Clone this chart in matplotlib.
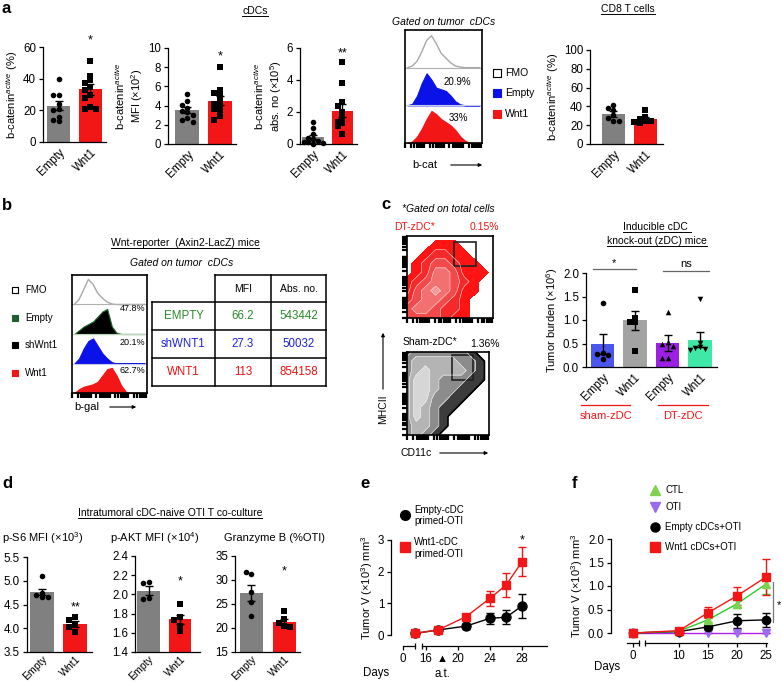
import numpy as np
import matplotlib
matplotlib.use('Agg')
import matplotlib.pyplot as plt
import matplotlib.transforms as mtransforms

plt.rcParams['font.family'] = ['Liberation Sans', 'DejaVu Sans']
plt.rcParams['mathtext.fontset'] = 'custom'
plt.rcParams['mathtext.rm'] = 'Liberation Sans'
plt.rcParams['mathtext.it'] = 'Liberation Sans:italic'
plt.rcParams['mathtext.bf'] = 'Liberation Sans:bold'
plt.rcParams['axes.linewidth'] = 0.9

RED = '#f21616'
GRAY = '#808080'
groups = ['Empty', 'Wnt1']
TICK = 8.3
LAB = 8

# ---------------- a : active b-catenin ----------------
a_pct_empty = [40, 30, 30, 24, 21, 20, 16, 14, 13]
a_pct_wnt1 = [51, 42, 39, 37, 35, 33, 30, 28, 22, 21, 21]
a_pct_mean = [23.0, 33.2]
a_pct_sem = [2.6, 3.2]

a_mfi_empty = [5.2, 4.5, 4.1, 3.8, 3.4, 3.3, 3.0, 2.7, 2.5, 2.3]
a_mfi_wnt1 = [8.0, 5.6, 5.3, 5.1, 4.5, 4.2, 4.0, 3.6, 3.4, 2.9, 2.5]
a_mfi_mean = [3.53, 4.52]
a_mfi_sem = [0.35, 0.5]

a_abs_empty = [1.4, 1.0, 0.6, 0.4, 0.3, 0.2, 0.15, 0.1, 0.05, 0.0]
a_abs_wnt1 = [5.1, 3.8, 2.6, 2.4, 2.0, 1.6, 1.4, 1.3, 1.1, 0.6]
a_abs_mean = [0.46, 2.07]
a_abs_sem = [0.12, 0.4]

cd8_empty = [42, 38, 36, 31, 28, 25, 25]
cd8_wnt1 = [36, 29, 27, 25, 24, 23, 22]
cd8_mean = [32.0, 26.2]
cd8_sem = [3.0, 2.5]

# flow histograms (relative counts over 16 channels)
hist_a_fmo = [0, .05, .2, .5, .85, 1.0, .75, .45, .3, .15, .05, .02, 0, 0, 0, 0]
hist_a_empty = [0, .05, .3, .7, 1.0, .8, .55, .5, .45, .3, .12, .03, 0, 0, 0, 0]
hist_a_wnt1 = [0, .05, .2, .45, .75, 1.0, .9, .75, .65, .55, .4, .2, .07, 0, 0, 0]
a_hist_pct = ['20.9%', '33%']

# ---------------- b : Axin2-LacZ reporter ----------------
hist_b_fmo = [0, .2, .6, 1.0, .8, .45, .25, .1, .02, 0, 0, 0, 0, 0, 0, 0]
hist_b_empty = [0, .15, .3, .4, .5, .7, .9, 1.0, .3, .05, 0, 0, 0, 0, 0, 0]
hist_b_sh = [0, .2, .6, .9, 1.0, .7, .4, .2, .05, 0, 0, 0, 0, 0, 0, 0]
hist_b_wnt1 = [0, .15, .25, .3, .35, .45, .7, .95, 1.0, .7, .3, .05, 0, 0, 0, 0]
b_hist_pct = ['47.8%', '20.1%', '62.7%']
b_legend = ['FMO', 'Empty', 'shWnt1', 'Wnt1']
b_rows = ['EMPTY', 'shWNT1', 'WNT1']
b_mfi = [66.2, 27.3, 113]
b_abs = [543442, 50032, 854158]

# ---------------- c : zDC ----------------
dt_density = [  # top row first
    [0, 0, 0, 0, 0, 0, 0, 0, 0, 0],
    [0, 0, 0, 1, 1, 1, 0, 0, 0, 0],
    [0, 0, 1, 2, 2, 1, 1, 0, 0, 0],
    [0, 1, 2, 3, 3, 2, 1, 1, 0, 0],
    [0, 1, 2, 4, 4, 3, 1, 1, 1, 0],
    [1, 2, 3, 4, 4, 3, 2, 1, 0, 0],
    [1, 3, 4, 5, 4, 3, 1, 1, 0, 0],
    [2, 3, 4, 4, 3, 2, 1, 0, 0, 0],
    [3, 4, 4, 3, 2, 2, 1, 0, 0, 0],
    [3, 3, 3, 3, 2, 1, 1, 0, 0, 0]]
dt_out_x = [0.60, 0.66, 0.72, 0.78, 0.84, 0.62, 0.57, 0.70, 0.90, 0.75, 0.68]
dt_out_y = [0.62, 0.58, 0.55, 0.57, 0.60, 0.76, 0.86, 0.66, 0.58, 0.48, 0.45]
sham_density = [
    [1, 2, 2, 2, 2, 2, 2, 1, 0, 0],
    [2, 3, 3, 3, 3, 3, 2, 2, 1, 0],
    [2, 3, 4, 3, 3, 3, 3, 2, 1, 0],
    [2, 4, 4, 3, 2, 2, 2, 1, 1, 0],
    [2, 4, 4, 3, 2, 2, 1, 1, 0, 0],
    [2, 4, 4, 2, 2, 1, 1, 0, 0, 0],
    [2, 4, 3, 2, 1, 1, 0, 0, 0, 0],
    [2, 4, 3, 2, 1, 0, 0, 0, 0, 0],
    [2, 3, 3, 2, 1, 0, 0, 0, 0, 0],
    [2, 3, 2, 1, 0, 0, 0, 0, 0, 0]]

c_labels = ['Empty', 'Wnt1', 'Empty', 'Wnt1']
c_sham_empty = [1.37, 0.30, 0.27, 0.26, 0.16]
c_sham_wnt1 = [1.64, 1.05, 0.96, 0.95, 0.34]
c_dt_empty = [1.16, 0.53, 0.48, 0.45, 0.20, 0.20]
c_dt_wnt1 = [1.45, 0.52, 0.42, 0.40, 0.38, 0.37]
c_mean = [0.49, 0.99, 0.52, 0.58]
c_sem = [0.22, 0.20, 0.17, 0.16]

# ---------------- d : co-culture ----------------
d_s6_empty = [5.1, 4.75, 4.7, 4.65, 4.65]
d_s6_wnt1 = [4.24, 4.17, 4.10, 4.03, 3.92]
d_s6_mean = [4.76, 4.09]
d_s6_sem = [0.07, 0.07]
d_akt_empty = [2.13, 2.12, 1.96, 1.95]
d_akt_wnt1 = [1.90, 1.76, 1.73, 1.67, 1.62]
d_akt_mean = [2.04, 1.74]
d_akt_sem = [0.05, 0.05]
d_gzb_empty = [31.3, 31.6, 27.6, 25.5, 22.4]
d_gzb_wnt1 = [23.6, 21.8, 21.0, 20.4, 20.3]
d_gzb_mean = [27.3, 21.3]
d_gzb_sem = [1.7, 0.6]

# ---------------- e : tumor growth ----------------
e_days = [7, 17.5, 21, 24, 26, 28]
e_empty = [0.05, 0.16, 0.28, 0.53, 0.56, 0.92]
e_empty_err = [0.03, 0.03, 0.08, 0.18, 0.22, 0.37]
e_wnt1 = [0.05, 0.16, 0.58, 1.16, 1.58, 2.32]
e_wnt1_err = [0.03, 0.03, 0.05, 0.24, 0.37, 0.45]
e_ticks = [0, 16, 20, 24, 28]
e_at_day = 18

# ---------------- f : tumor growth ----------------
f_days = [0, 10, 15, 20, 25]
f_ctl = [0, 0.04, 0.28, 0.62, 1.04]
f_ctl_err = [0.01, 0.02, 0.05, 0.08, 0.20]
f_oti = [0, 0, 0, 0, 0]
f_oti_err = [0, 0, 0, 0, 0]
f_empty = [0, 0.03, 0.13, 0.26, 0.28]
f_empty_err = [0.01, 0.02, 0.04, 0.15, 0.15]
f_wnt1 = [0, 0.05, 0.43, 0.79, 1.19]
f_wnt1_err = [0.01, 0.03, 0.12, 0.19, 0.38]
f_ticks = [0, 10, 15, 20, 25]

W, H = 782, 685
fig = plt.figure(figsize=(W / 100, H / 100), dpi=100)


def box(x0, y0, x1, y1):
    return fig.add_axes([x0 / W, 1 - y1 / H, (x1 - x0) / W, (y1 - y0) / H])


def swarm(vals, dx, tol):
    offs, placed = [], []
    for v in vals:
        for c in [0, -1, 1, -2, 2, -3, 3]:
            if all(abs(v - pv) > tol or c != pc for pv, pc in placed):
                break
        placed.append((v, c))
        offs.append(c * dx)
    return np.array(offs)


def bar_panel(ax, pts, means, sems, colors, markers, xlim, ylim, yticks,
              labels=groups, width=0.74, s=16, dx=0.18, xsize=TICK):
    x = np.arange(1, len(means) + 1)
    ax.bar(x, means, width=width, color=colors, zorder=1)
    tol = 0.045 * (ylim[1] - ylim[0])
    for xi, vals, m in zip(x, pts, markers):
        ax.scatter(xi + swarm(vals, dx, tol), vals, s=s, marker=m,
                   color='black', linewidths=0, zorder=3, clip_on=False)
    ax.errorbar(x, means, yerr=sems, fmt='none', ecolor='black',
                elinewidth=1, capsize=3.2, capthick=1, zorder=4)
    ax.set_xlim(xlim)
    ax.set_ylim(ylim)
    ax.set_yticks(yticks)
    ax.set_xticks(x)
    ax.set_xticklabels(labels, rotation=45, ha='right', rotation_mode='anchor')
    for sp in ['top', 'right']:
        ax.spines[sp].set_visible(False)
    ax.tick_params(axis='y', length=3, width=0.9, labelsize=TICK, pad=2)
    ax.tick_params(axis='x', length=0, labelsize=xsize, pad=3)


def flow_ticks(ax, sides=('bottom',)):
    t = [(d + np.log10(k)) / 4 for d in range(4) for k in range(1, 10)]
    ax.set_xticks(t if 'bottom' in sides else [])
    ax.set_yticks(t if 'left' in sides else [])
    ax.set_xticklabels([])
    ax.set_yticklabels([])
    ax.tick_params(length=3.5, width=1.6, direction='out')
    for sp in ax.spines.values():
        sp.set_linewidth(1.2)


def stacked_hist(ax, rows):
    chans = (np.arange(16) + 0.5) / 16
    n = len(rows)
    for i, (h, fc, ec, base_c) in enumerate(rows):
        base = n - 1 - i
        top = base + np.array(h) * 0.85
        if fc == 'none':
            ax.plot(chans, top, color=ec, lw=1)
        else:
            ax.fill_between(chans, base, top, color=fc, lw=0.8, edgecolor=ec)
        ax.axhline(base, color=base_c, lw=0.8)
    ax.set_xlim(0, 1)
    ax.set_ylim(0, n)
    flow_ticks(ax)


# ======================= panel a =======================
ax = box(43, 47, 106, 142)
bar_panel(ax, [a_pct_empty, a_pct_wnt1], a_pct_mean, a_pct_sem, [GRAY, RED],
          ['o', 's'], (0.5, 2.5), (0, 60), [0, 20, 40, 60])
ax.set_ylabel('b-catenin$^{active}$ (%)', fontsize=LAB, labelpad=2)
ax.text(2, 62, '*', ha='center', fontsize=9)

ax = box(168, 48, 236, 144)
bar_panel(ax, [a_mfi_empty, a_mfi_wnt1], a_mfi_mean, a_mfi_sem, [GRAY, RED],
          ['o', 's'], (0.4, 2.5), (0, 10), [0, 2, 4, 6, 8, 10])
ax.set_ylabel('b-catenin$^{active}$\nMFI (×10$^2$)', fontsize=LAB, labelpad=2)
ax.text(2, 8.8, '*', ha='center', fontsize=9)

ax = box(300, 48, 357, 144)
bar_panel(ax, [a_abs_empty, a_abs_wnt1], a_abs_mean, a_abs_sem, [GRAY, RED],
          ['o', 's'], (0.55, 2.5), (0, 6), [0, 2, 4, 6], dx=0.16)
ax.set_ylabel('b-catenin$^{active}$\nabs. no (×10$^5$)', fontsize=LAB, labelpad=2)
ax.text(2, 5.5, '**', ha='center', fontsize=9)

ax = box(405, 30, 482, 143)
stacked_hist(ax, [(hist_a_fmo, 'none', '#a8a8a8', '#b0b0b0'),
                  (hist_a_empty, '#0b12e8', '#0b12e8', '#c8c8e8'),
                  (hist_a_wnt1, RED, RED, '#e8c8c8')])

ax = box(590, 50, 663, 144)
bar_panel(ax, [cd8_empty, cd8_wnt1], cd8_mean, cd8_sem, [GRAY, RED],
          ['o', 's'], (0.27, 2.55), (0, 100), [0, 20, 40, 60, 80, 100])
ax.set_ylabel('b-catenin$^{active}$ (%)', fontsize=LAB, labelpad=2)

# ======================= panel b =======================
ax = box(72, 275, 147, 393)
stacked_hist(ax, [(hist_b_fmo, 'none', '#a8a8a8', '#b0b0b0'),
                  (hist_b_empty, 'black', '#1d6b2d', '#b8d8b8'),
                  (hist_b_sh, '#0b12e8', '#0b12e8', '#c8c8e8'),
                  (hist_b_wnt1, RED, RED, '#e8c8c8')])

# ======================= panel c =======================
ax = box(407, 236, 493, 318)
gx = np.linspace(0, 1, 10)
Z = np.array(dt_density)[::-1]
ax.contourf(gx, gx, Z, levels=[0.5, 1.5, 2.5, 3.5, 4.5, 6],
            colors=['#ff1414', '#f42a2a', '#f24a4a', '#f27070', '#f59a9a'])
ax.contour(gx, gx, Z, levels=[1.5, 2.5, 3.5, 4.5], colors='#ffd6d6', linewidths=0.4)
ax.scatter(dt_out_x, dt_out_y, s=2, color='#ff2020', linewidths=0)
ax.add_patch(plt.Rectangle((0.55, 0.63), 0.25, 0.30, fill=False, lw=1.2, color='#222222'))
ax.set_xlim(0, 1)
ax.set_ylim(0, 1)
flow_ticks(ax, ('bottom', 'left'))

ax = box(407, 352, 489, 435)
Z = np.array(sham_density)[::-1]
ax.contourf(gx, gx, Z, levels=[0.5, 1.5, 2.5, 3.5, 5],
            colors=['#3c3c3c', '#8c8c8c', '#b4b4b4', '#d6d6d6'])
ax.contour(gx, gx, Z, levels=[0.5], colors='black', linewidths=1.2)
ax.contour(gx, gx, Z, levels=[1.5, 2.5, 3.5], colors='#eeeeee', linewidths=0.4)
ax.add_patch(plt.Rectangle((0.55, 0.66), 0.25, 0.30, fill=False, lw=1.2, color='#222222'))
ax.set_xlim(0, 1)
ax.set_ylim(0, 1)
flow_ticks(ax, ('bottom', 'left'))

ax = box(586, 273, 717, 367)
bar_panel(ax, [c_sham_empty, c_sham_wnt1, c_dt_empty, c_dt_wnt1], c_mean, c_sem,
          ['#4a56ee', '#a3a3a3', '#9c1fe4', '#3fe8a6'], ['o', 's', '^', 'v'],
          (0.49, 4.52), (0, 2.0), [0, 0.5, 1.0, 1.5, 2.0], labels=c_labels,
          width=0.72, s=16, dx=0.16)
ax.set_yticklabels(['0.0', '0.5', '1.0', '1.5', '2.0'])
ax.set_ylabel('Tumor burden (×10$^6$)', fontsize=LAB, labelpad=2)

# ======================= panel d =======================
ax = box(27, 557, 92, 652)
bar_panel(ax, [d_s6_empty, d_s6_wnt1], d_s6_mean, d_s6_sem, [GRAY, RED],
          ['o', 's'], (0.55, 2.5), (3.5, 5.5), [3.5, 4.0, 4.5, 5.0, 5.5], width=0.72,
          xsize=7.6)
ax.text(2, 4.38, '**', ha='center', fontsize=9)

ax = box(135, 556, 200, 652)
bar_panel(ax, [d_akt_empty, d_akt_wnt1], d_akt_mean, d_akt_sem, [GRAY, RED],
          ['o', 's'], (0.57, 2.63), (1.4, 2.4), [1.4, 1.6, 1.8, 2.0, 2.2, 2.4], width=0.72,
          xsize=7.6)
ax.text(2, 2.1, '*', ha='center', fontsize=9)

ax = box(235, 556, 300, 652)
bar_panel(ax, [d_gzb_empty, d_gzb_wnt1], d_gzb_mean, d_gzb_sem, [GRAY, RED],
          ['o', 's'], (0.5, 2.47), (15, 35), [15, 20, 25, 30, 35], width=0.72,
          xsize=7.6)
ax.text(2, 31.2, '*', ha='center', fontsize=9)
for a in fig.axes[-3:]:
    a.tick_params(axis='x', pad=1.5)


# ======================= panels e, f =======================
def growth_axes(ax, xp, fp, xlim, seg1, seg2, ticks, ylim, yticks, ylabels, out_px):
    fwd = lambda d: np.interp(d, xp, fp)
    inv = lambda p: np.interp(p, fp, xp)
    ax.set_xscale('function', functions=(fwd, inv))
    ax.set_xlim(xlim)
    ax.set_ylim(ylim)
    ax.set_xticks(ticks)
    ax.set_xticklabels([str(t) for t in ticks])
    ax.minorticks_off()
    ax.set_yticks(yticks)
    ax.set_yticklabels(ylabels)
    for sp in ['top', 'right']:
        ax.spines[sp].set_visible(False)
    out_pt = out_px * 0.72
    ax.spines['bottom'].set_position(('outward', out_pt))
    ax.spines['bottom'].set_bounds(*seg2)
    tr = mtransforms.offset_copy(ax.get_xaxis_transform(), fig=fig, y=-out_pt, units='points')
    ax.plot(seg1, [0, 0], color='black', lw=0.9, transform=tr, clip_on=False)
    ax.plot([seg1[1], seg2[0]], [0, 0], ls='none', marker='|', ms=5, mew=0.9,
            color='black', transform=tr, clip_on=False)
    ax.tick_params(length=3, width=0.9, labelsize=TICK, pad=2)
    ax.set_ylabel('Tumor V (×10$^3$) mm$^3$', fontsize=LAB, labelpad=2)


def growth_line(ax, days, vals, err, color, mcolor, marker, ms):
    cont = ax.errorbar(days, vals, yerr=err, fmt='-', marker=marker, color=color,
                       mfc=mcolor, mec=mcolor, ms=ms, lw=1, elinewidth=1,
                       capsize=3, capthick=1, zorder=3)
    for art in cont.get_children():
        art.set_clip_on(False)


ax = box(391, 540, 547, 635)
growth_axes(ax, [-10, 0, 7.5, 15.5, 60], [-10, 0, 1.607, 2.375, 46.875],
            (-1.5, 31.1), [0, 7], [15.5, 31.1], e_ticks, (0, 3), [0, 1, 2, 3],
            ['0', '1', '2', '3'], 11)
growth_line(ax, e_days, e_empty, e_empty_err, 'black', 'black', 'o', 6.5)
growth_line(ax, e_days, e_wnt1, e_wnt1_err, RED, RED, 's', 6)
ax.text(28, 3.0, '*', ha='center', va='center', fontsize=9)
ax.text(e_at_day, -0.25, '▲', transform=ax.get_xaxis_transform(), ha='center',
        va='center', fontsize=8)
ax.text(e_at_day, -0.41, 'a.t.', transform=ax.get_xaxis_transform(), ha='center',
        va='center', fontsize=TICK)

ax = box(611, 539, 770, 633)
growth_axes(ax, [-20, 1, 4.14, 60], [-20, 1, 2.07, 57.93],
            (-3.8, 25.7), [-1, 1], [4.14, 25.2], f_ticks, (0, 2.0),
            [0, 0.5, 1.0, 1.5, 2.0], ['0.0', '0.5', '1.0', '1.5', '2.0'], 10)
growth_line(ax, f_days, f_oti, f_oti_err, '#b020e8', '#9a6cf2', 'v', 6)
growth_line(ax, f_days, f_empty, f_empty_err, 'black', 'black', 'o', 6)
growth_line(ax, f_days, f_ctl, f_ctl_err, '#2ecc2e', '#7fd24e', '^', 6)
growth_line(ax, f_days, f_wnt1, f_wnt1_err, RED, RED, 's', 5.5)

# ======================= overlay: labels, legends, table =======================
ov = fig.add_axes([0, 0, 1, 1])
ov.set_xlim(0, W)
ov.set_ylim(H, 0)
ov.axis('off')
underlined = []


def txt(x, y, s, size=7.5, u=False, **kw):
    kw.setdefault('ha', 'center')
    kw.setdefault('va', 'center')
    t = ov.text(x, y, s, fontsize=size, **kw)
    if u:
        underlined.append(t)
    return t


for lab, (x, y) in zip('abcdef', [(2, 8), (2, 205), (381, 204), (2, 483), (360, 483), (572, 483)]):
    txt(x, y, lab, size=12, weight='bold', ha='left')

# a
txt(255, 11, 'cDCs', u=True)
txt(628, 9, 'CD8 T cells', u=True)
txt(392, 22, 'Gated on tumor  cDCs', style='italic', ha='left')
txt(457, 82, a_hist_pct[0], size=7)
txt(458, 118, a_hist_pct[1], size=7)
txt(425, 165, 'b-cat', size=8)
ov.annotate('', xy=(485, 165), xytext=(448, 165),
            arrowprops=dict(arrowstyle='-|>', lw=0.8, color='black', mutation_scale=5))
for y, lab, fc in zip([73, 93, 114], ['FMO', 'Empty', 'Wnt1'], ['white', '#0b12e8', RED]):
    ov.scatter([497], [y], marker='s', s=28, c=fc, edgecolors='black' if fc == 'white' else fc,
               linewidths=0.8)
    txt(505, y, lab, size=7.5, ha='left')

# b
txt(185, 243, 'Wnt-reporter  (Axin2-LacZ) mice', u=True)
txt(182, 263, 'Gated on tumor  cDCs', style='italic')
for y, lab, fc in zip([290, 318, 345, 373], b_legend, ['white', '#1d5f2e', 'black', RED]):
    ov.scatter([15], [y], marker='s', s=24, c=fc, edgecolors='black' if fc == 'white' else fc,
               linewidths=0.8)
    txt(25, y, lab, size=7, ha='left')
for y, s in zip([308, 342, 370], b_hist_pct):
    txt(145, y, s, size=6.5, ha='right')
txt(87, 407, 'b-gal', size=8)
ov.annotate('', xy=(139, 407), xytext=(107, 407),
            arrowprops=dict(arrowstyle='-|>', lw=0.8, color='black', mutation_scale=5))
cols = [152, 215, 271, 326]
rows = [275, 302, 330, 358, 386]
tk = dict(color='black', lw=1.1)
ov.plot([215, 326], [275, 275], **tk)
for y in rows[1:]:
    ov.plot([152, 326], [y, y], **tk)
for x in cols[1:]:
    ov.plot([x, x], [275, 386], **tk)
ov.plot([152, 152], [302, 386], **tk)
txt(243, 288.5, 'MFI', size=7.5)
txt(298.5, 288.5, 'Abs. no.', size=7.5)
b_colors = ['#2a8a2a', '#2020dd', '#ee1111']
for i, (r, m, n, c) in enumerate(zip(b_rows, b_mfi, b_abs, b_colors)):
    yc = (rows[i + 1] + rows[i + 2]) / 2
    txt(183.5, yc, r, size=8.3, color=c)
    txt(243, yc, f'{m:g}', size=8.3, color=c)
    txt(298.5, yc, f'{n}', size=8.3, color=c)

# c
txt(402, 209, '*Gated on total cells', style='italic', ha='left')
txt(415, 227, 'DT-zDC*', color=RED)
txt(499, 227, '0.15%', color=RED, ha='right')
txt(430, 342, 'Sham-zDC*')
txt(500, 344, '1.36%', ha='right')
txt(383, 409, 'MHCII', rotation=90, size=7.5)
ov.annotate('', xy=(383, 330), xytext=(383, 392),
            arrowprops=dict(arrowstyle='-|>', lw=0.8, color='black', mutation_scale=5))
txt(416, 453, 'CD11c', size=7.5)
ov.annotate('', xy=(491, 453), xytext=(437, 453),
            arrowprops=dict(arrowstyle='-|>', lw=0.8, color='black', mutation_scale=5))
txt(657, 227, 'Inducible cDC ', u=True)
txt(657, 241, 'knock-out (zDC) mice', u=True)
ov.plot([593, 636], [269, 269], color='#666666', lw=0.9)
txt(614, 263, '*', size=8)
ov.plot([663, 709], [271, 271], color='#666666', lw=0.9)
txt(686, 264, 'ns', size=8)
ov.plot([581, 630], [405, 405], color=RED, lw=0.9)
txt(606, 416, 'sham-zDC', color=RED, size=8)
ov.plot([658, 708], [405, 405], color=RED, lw=0.9)
txt(683, 416, 'DT-zDC', color=RED, size=8)

# d
txt(170, 513, 'Intratumoral cDC-naive OTI T co-culture', u=True)
txt(43, 538, 'p-S6 MFI (×10$^3$)', size=8)
txt(155, 538, 'p-AKT MFI (×10$^4$)', size=8)
txt(274, 538, 'Granzyme B (%OTI)', size=8)

# e
ov.plot([405], [515], 'o', color='black', ms=7)
txt(414, 510, 'Empty-cDC', size=7, ha='left')
txt(414, 521, 'primed-OTI', size=7, ha='left')
ov.plot([405], [547], 's', color=RED, ms=6.5)
txt(414, 542, 'Wnt1-cDC', size=7, ha='left')
txt(414, 554, 'primed-OTI', size=7, ha='left')
txt(376, 673, 'Days', size=TICK)

# f
for y, lab, m, c in zip([490, 507, 527, 547], ['CTL', 'OTI', 'Empty cDCs+OTI', 'Wnt1 cDCs+OTI'],
                        ['^', 'v', 'o', 's'], ['#7fd24e', '#9a6cf2', 'black', RED]):
    ov.plot([655], [y], m, color=c, ms=6.5)
    txt(665, y, lab, size=7, ha='left')
txt(607, 667, 'Days', size=TICK)
ov.plot([773, 773], [582, 622], color='#777777', lw=0.9)
txt(779, 605, '*', size=8)

fig.canvas.draw()
r = fig.canvas.get_renderer()
for t in underlined:
    bb = t.get_window_extent(r).transformed(ov.transData.inverted())
    yb = max(bb.y0, bb.y1) + 0.3
    ov.plot([bb.x0, bb.x1], [yb, yb], color='black', lw=0.7)

fig.savefig('out.png', dpi=100)
